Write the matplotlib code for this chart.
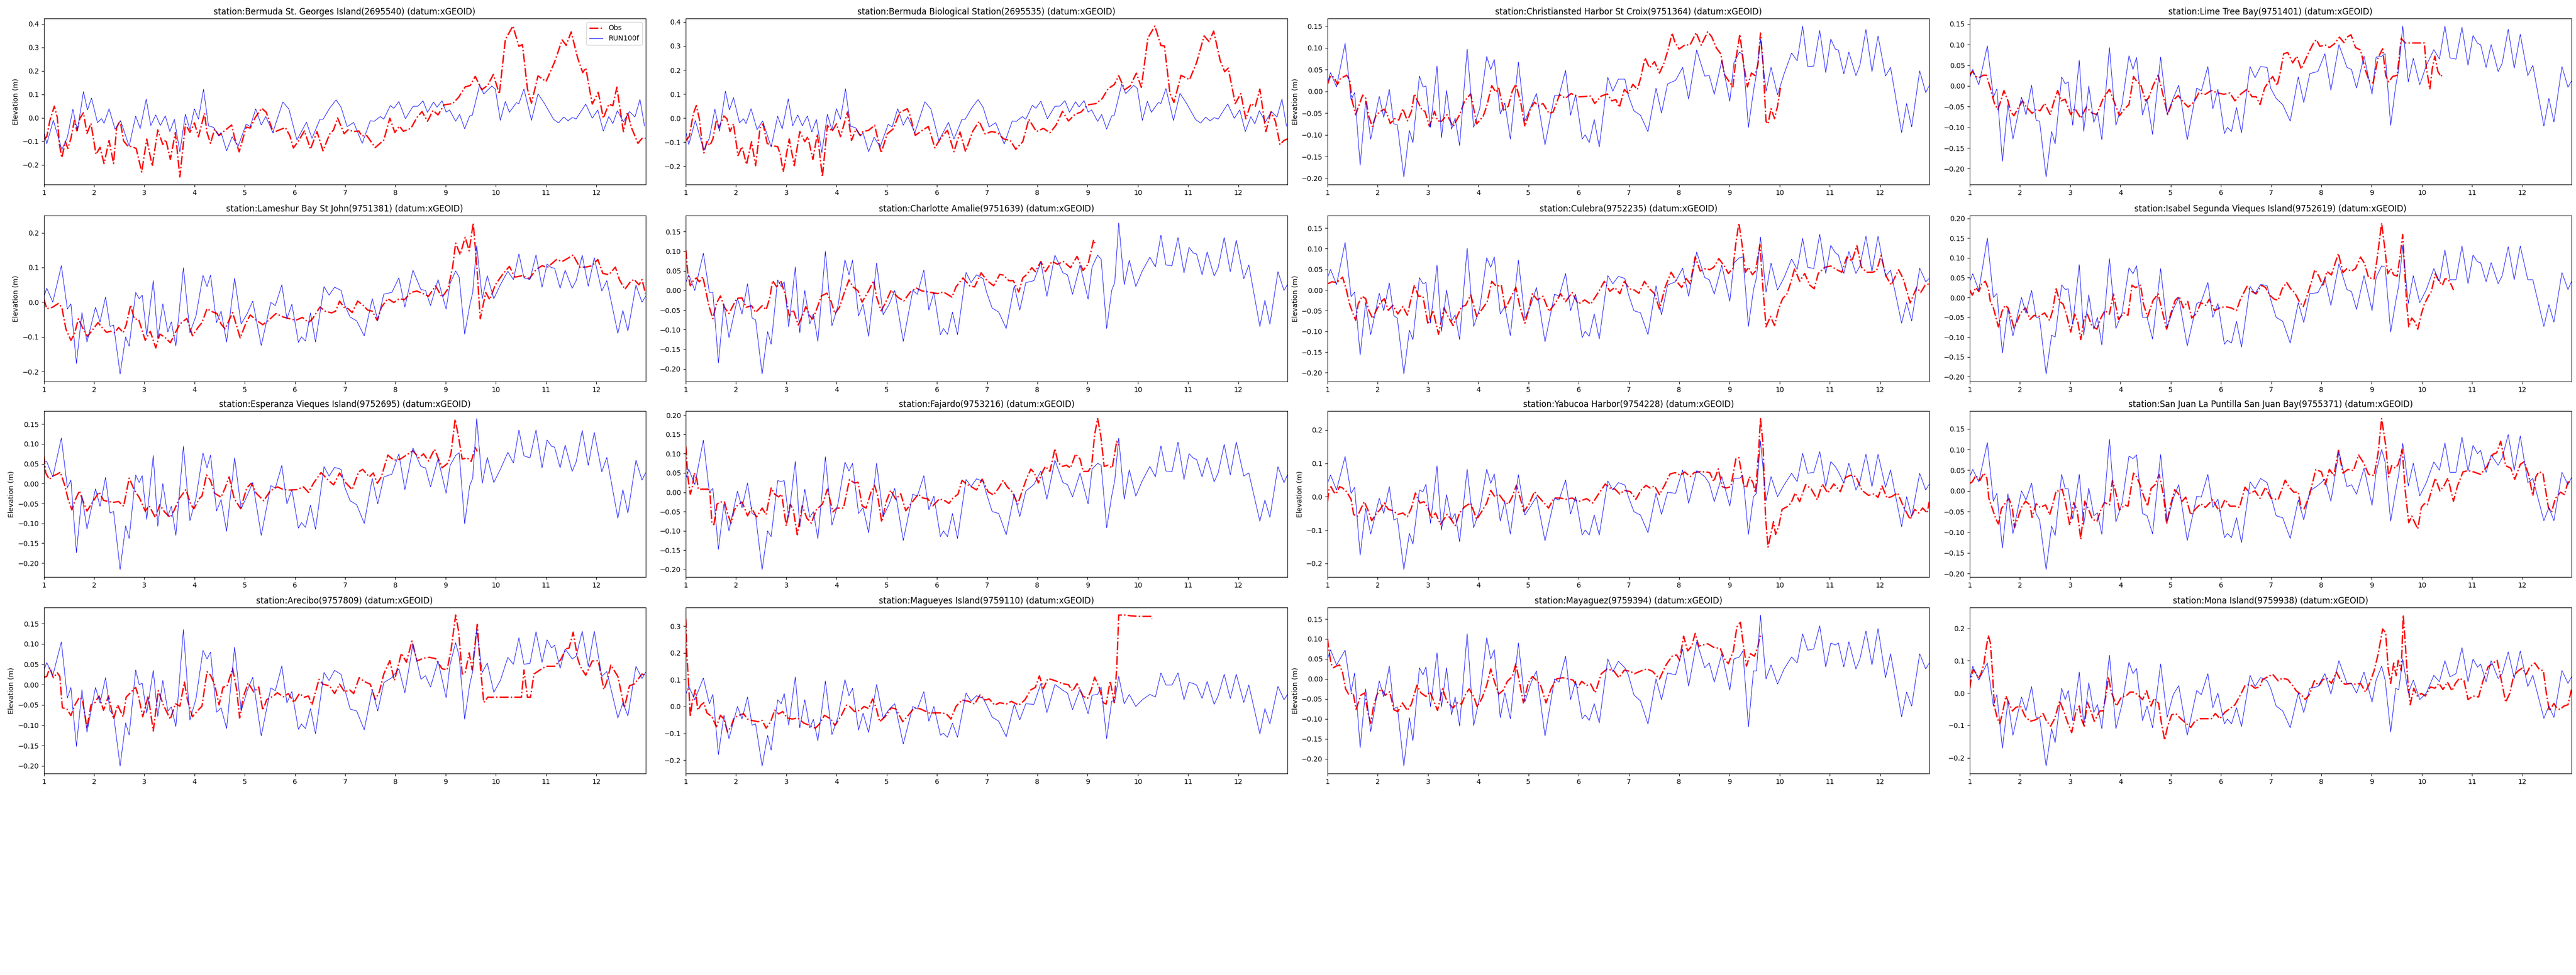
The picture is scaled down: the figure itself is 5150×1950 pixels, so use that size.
import numpy as np
import matplotlib
matplotlib.use("Agg")
import matplotlib.pyplot as plt

stations = [
    "Bermuda St. Georges Island(2695540)", "Bermuda Biological Station(2695535)",
    "Christiansted Harbor St Croix(9751364)", "Lime Tree Bay(9751401)",
    "Lameshur Bay St John(9751381)", "Charlotte Amalie(9751639)",
    "Culebra(9752235)", "Isabel Segunda Vieques Island(9752619)",
    "Esperanza Vieques Island(9752695)", "Fajardo(9753216)",
    "Yabucoa Harbor(9754228)", "San Juan La Puntilla San Juan Bay(9755371)",
    "Arecibo(9757809)", "Magueyes Island(9759110)",
    "Mayaguez(9759394)", "Mona Island(9759938)",
]

# ---------------- model (RUN100f) ----------------
# Bermuda model curve: flat list of time, value
run_bermuda = [
    1.00,-0.055, 1.06,-0.110, 1.19,-0.010, 1.36,-0.135, 1.47,-0.083, 1.58,0.037, 1.67,-0.055, 1.79,0.112, 1.87,0.034, 1.95,0.085,
    2.07,-0.020, 2.15,-0.003, 2.20,-0.023, 2.30,0.039, 2.42,-0.048, 2.53,-0.012, 2.70,-0.120, 2.83,0.008, 2.92,-0.045, 3.04,0.080,
    3.13,-0.032, 3.23,0.013, 3.32,-0.032, 3.42,0.009, 3.51,-0.058, 3.60,-0.006, 3.71,-0.144, 3.82,0.016, 3.91,-0.050, 4.00,0.039,
    4.08,-0.005, 4.18,0.122, 4.28,-0.034, 4.38,-0.040, 4.48,-0.075, 4.53,-0.062, 4.64,-0.140, 4.75,-0.080, 4.87,-0.120, 5.03,-0.026,
    5.11,-0.037, 5.22,0.039, 5.33,-0.030, 5.42,0.006, 5.56,-0.062, 5.76,0.068, 5.88,0.038, 6.04,-0.094, 6.23,-0.018, 6.34,-0.087,
    6.50,-0.005, 6.56,-0.006, 6.69,0.041, 6.82,0.077, 6.92,0.045, 7.04,-0.037, 7.17,-0.019, 7.34,-0.108, 7.50,-0.012, 7.58,-0.014,
    7.70,0.006, 7.77,-0.005, 7.90,0.053, 7.97,0.041, 8.07,0.070, 8.20,-0.003, 8.35,0.049, 8.45,0.050, 8.55,0.073, 8.64,0.024,
    8.76,0.068, 8.83,0.046, 8.93,0.073, 9.01,0.025, 9.08,0.034, 9.20,-0.014, 9.28,0.015, 9.38,-0.046, 9.48,0.009, 9.53,0.011,
    9.68,0.141, 9.76,0.102, 9.92,0.136, 9.99,0.123, 10.09,-0.010, 10.19,0.070, 10.27,0.024, 10.41,0.065, 10.46,0.061, 10.56,0.123,
    10.71,-0.010, 10.84,0.103, 10.97,0.061, 11.15,-0.006, 11.25,-0.021, 11.35,0.004, 11.44,-0.012, 11.52,0.002, 11.60,-0.004, 11.79,0.059,
    11.92,-0.001, 12.03,0.034, 12.14,-0.056, 12.25,0.006, 12.33,-0.024, 12.42,0.031, 12.54,-0.016, 12.66,0.027, 12.77,0.004, 12.87,0.079,
    12.96,-0.034,
]

# Puerto Rico / Virgin Islands model curves share these times
t_pr = [
    1.00, 1.06, 1.18, 1.35, 1.47, 1.54, 1.65, 1.76, 1.86, 2.03,
    2.12, 2.23, 2.32, 2.39, 2.52, 2.63, 2.70, 2.83, 2.90, 2.96,
    3.05, 3.18, 3.27, 3.37, 3.47, 3.54, 3.63, 3.78, 3.91, 4.03,
    4.17, 4.25, 4.32, 4.44, 4.53, 4.64, 4.80, 4.93, 5.05, 5.16,
    5.33, 5.52, 5.61, 5.74, 5.84, 5.94, 6.07, 6.13, 6.21, 6.31,
    6.41, 6.58, 6.68, 6.79, 6.92, 6.99, 7.10, 7.23, 7.38, 7.54,
    7.65, 7.77, 7.93, 8.07, 8.19, 8.35, 8.51, 8.60, 8.70, 8.85,
    9.01, 9.09, 9.20, 9.27, 9.38, 9.48, 9.54, 9.62, 9.73, 9.83,
    9.96, 10.09, 10.24, 10.35, 10.46, 10.56, 10.68, 10.80, 10.92, 11.02,
    11.11, 11.17, 11.28, 11.38, 11.52, 11.60, 11.72, 11.84, 11.96, 12.11,
    12.21, 12.43, 12.53, 12.63, 12.79, 12.91, 12.98,
]

run_christiansted = [
    0.020, 0.043, 0.010, 0.110, -0.020, -0.003, -0.170, -0.022, -0.110, -0.012,
    -0.060, 0.004, -0.075, -0.077, -0.197, -0.090, -0.118, 0.035, 0.010, 0.012,
    -0.083, 0.058, -0.107, 0.002, -0.087, -0.062, -0.125, 0.097, -0.083, -0.040,
    0.080, 0.050, 0.073, -0.052, -0.027, -0.110, 0.067, -0.068, -0.035, -0.005,
    -0.123, -0.010, -0.010, 0.048, -0.055, -0.008, -0.110, -0.100, -0.118, -0.065,
    -0.128, 0.032, 0.000, 0.028, 0.028, -0.010, -0.045, -0.055, -0.093, 0.007,
    -0.050, 0.017, 0.025, 0.055, -0.018, 0.095, 0.035, 0.036, -0.007, 0.070,
    -0.023, 0.065, 0.090, 0.085, -0.083, 0.000, 0.040, 0.120, 0.000, 0.055,
    -0.008, 0.040, 0.088, 0.070, 0.150, 0.057, 0.058, 0.140, 0.043, 0.120,
    0.097, 0.095, 0.040, 0.090, 0.036, 0.060, 0.142, 0.045, 0.127, 0.035,
    0.055, -0.095, -0.028, -0.082, 0.047, -0.003, 0.013,
]
run_limetree = [
    0.020, 0.040, 0.003, 0.097, -0.027, -0.007, -0.182, -0.045, -0.128, -0.027,
    -0.070, 0.002, -0.083, -0.085, -0.220, -0.110, -0.140, 0.022, 0.005, 0.010,
    -0.095, 0.062, -0.110, 0.000, -0.088, -0.063, -0.130, 0.093, -0.095, -0.045,
    0.073, 0.040, 0.069, -0.070, -0.032, -0.117, 0.070, -0.068, -0.030, 0.002,
    -0.130, -0.005, -0.012, 0.047, -0.055, -0.008, -0.115, -0.100, -0.110, -0.052,
    -0.113, 0.047, 0.020, 0.047, 0.045, -0.005, -0.030, -0.045, -0.085, 0.022,
    -0.040, 0.030, 0.035, 0.078, -0.010, 0.100, 0.045, 0.040, -0.005, 0.072,
    -0.020, 0.070, 0.072, 0.078, -0.095, 0.000, 0.040, 0.145, 0.010, 0.067,
    0.003, 0.050, 0.088, 0.065, 0.145, 0.068, 0.065, 0.142, 0.050, 0.122,
    0.103, 0.100, 0.045, 0.100, 0.035, 0.055, 0.137, 0.043, 0.125, 0.025,
    0.050, -0.097, -0.030, -0.087, 0.047, -0.003, 0.012,
]
run_lameshur = [
    0.015, 0.040, 0.000, 0.105, -0.020, -0.005, -0.177, -0.030, -0.115, -0.015,
    -0.057, 0.015, -0.070, -0.066, -0.207, -0.100, -0.127, 0.028, 0.010, 0.020,
    -0.095, 0.062, -0.105, -0.005, -0.086, -0.057, -0.126, 0.099, -0.088, -0.040,
    0.077, 0.045, 0.078, -0.059, -0.026, -0.115, 0.069, -0.063, -0.033, 0.003,
    -0.125, -0.001, -0.010, 0.050, -0.048, -0.006, -0.116, -0.100, -0.112, -0.031,
    -0.115, 0.045, 0.020, 0.043, 0.034, -0.008, -0.043, -0.054, -0.097, 0.010,
    -0.052, 0.023, 0.028, 0.070, -0.014, 0.092, 0.036, 0.034, -0.010, 0.065,
    -0.020, 0.054, 0.090, 0.072, -0.092, -0.010, 0.028, 0.163, 0.010, 0.076,
    0.010, 0.050, 0.089, 0.065, 0.139, 0.070, 0.065, 0.136, 0.043, 0.110,
    0.099, 0.098, 0.040, 0.092, 0.040, 0.062, 0.135, 0.046, 0.128, 0.032,
    0.062, -0.090, -0.024, -0.083, 0.049, 0.000, 0.016,
]
run_charlotte = [
    0.020, 0.040, 0.000, 0.095, -0.005, -0.005, -0.185, -0.035, -0.120, -0.020,
    -0.060, 0.017, -0.070, -0.075, -0.213, -0.105, -0.137, 0.027, 0.010, 0.022,
    -0.093, 0.060, -0.108, 0.000, -0.085, -0.060, -0.130, 0.100, -0.090, -0.040,
    0.078, 0.040, 0.077, -0.065, -0.035, -0.117, 0.070, -0.062, -0.035, 0.000,
    -0.130, 0.000, -0.010, 0.052, -0.050, -0.005, -0.113, -0.097, -0.112, -0.055,
    -0.113, 0.046, 0.020, 0.040, 0.030, -0.005, -0.045, -0.055, -0.097, 0.012,
    -0.050, 0.020, 0.025, 0.072, -0.015, 0.090, 0.045, 0.040, -0.010, 0.065,
    -0.022, 0.060, 0.090, 0.080, -0.097, 0.000, 0.020, 0.172, 0.015, 0.077,
    0.010, 0.050, 0.085, 0.060, 0.141, 0.065, 0.063, 0.135, 0.045, 0.110,
    0.095, 0.093, 0.040, 0.098, 0.037, 0.058, 0.135, 0.048, 0.128, 0.030,
    0.065, -0.092, -0.025, -0.086, 0.048, 0.000, 0.015,
]
run_culebra = [
    0.030, 0.050, 0.013, 0.115, -0.016, -0.005, -0.157, -0.030, -0.108, -0.008,
    -0.050, 0.017, -0.062, -0.068, -0.203, -0.097, -0.120, 0.030, 0.015, 0.018,
    -0.080, 0.060, -0.100, 0.000, -0.075, -0.060, -0.120, 0.101, -0.088, -0.045,
    0.078, 0.055, 0.080, -0.058, -0.040, -0.110, 0.072, -0.068, -0.035, 0.006,
    -0.125, -0.010, -0.015, 0.040, -0.050, -0.010, -0.115, -0.100, -0.112, -0.058,
    -0.118, 0.035, 0.015, 0.033, 0.028, -0.010, -0.050, -0.055, -0.108, 0.010,
    -0.060, 0.012, 0.020, 0.053, -0.015, 0.092, 0.030, 0.025, -0.010, 0.060,
    -0.027, 0.065, 0.078, 0.080, -0.088, 0.000, 0.030, 0.128, -0.005, 0.065,
    0.000, 0.030, 0.075, 0.050, 0.125, 0.055, 0.052, 0.135, 0.040, 0.108,
    0.090, 0.085, 0.040, 0.093, 0.040, 0.058, 0.130, 0.045, 0.130, 0.033,
    0.048, -0.080, -0.030, -0.075, 0.053, 0.020, 0.028,
]
run_isabel = [
    0.041, 0.060, 0.018, 0.150, 0.000, 0.010, -0.140, -0.030, -0.097, 0.000,
    -0.040, 0.018, -0.050, -0.052, -0.193, -0.095, -0.100, 0.032, 0.020, 0.022,
    -0.068, 0.083, -0.095, 0.007, -0.080, -0.050, -0.120, 0.098, -0.078, -0.040,
    0.075, 0.060, 0.080, -0.050, -0.050, -0.105, 0.073, -0.075, -0.030, 0.000,
    -0.122, -0.015, -0.010, 0.038, -0.050, -0.015, -0.118, -0.108, -0.115, -0.060,
    -0.125, 0.028, 0.010, 0.033, 0.030, -0.005, -0.050, -0.060, -0.115, -0.013,
    -0.063, 0.010, 0.012, 0.048, -0.020, 0.085, 0.020, 0.015, -0.030, 0.055,
    -0.033, 0.050, 0.080, 0.077, -0.087, -0.010, 0.030, 0.130, -0.015, 0.055,
    -0.013, 0.020, 0.073, 0.040, 0.120, 0.045, 0.045, 0.130, 0.035, 0.107,
    0.090, 0.088, 0.040, 0.088, 0.035, 0.055, 0.128, 0.045, 0.130, 0.045,
    0.045, -0.073, -0.018, -0.062, 0.063, 0.020, 0.040,
]
run_esperanza = [
    0.059, 0.055, 0.017, 0.115, -0.010, 0.009, -0.174, -0.030, -0.114, -0.013,
    -0.057, 0.016, -0.074, -0.070, -0.216, -0.106, -0.138, 0.022, 0.003, 0.020,
    -0.090, 0.071, -0.107, 0.000, -0.082, -0.057, -0.130, 0.094, -0.093, -0.037,
    0.077, 0.040, 0.072, -0.069, -0.040, -0.120, 0.065, -0.063, -0.030, 0.003,
    -0.130, -0.005, -0.011, 0.046, -0.051, -0.015, -0.112, -0.098, -0.110, -0.054,
    -0.115, 0.043, 0.019, 0.041, 0.036, -0.008, -0.043, -0.053, -0.100, 0.013,
    -0.051, 0.017, 0.024, 0.075, -0.015, 0.090, 0.043, 0.040, -0.008, 0.063,
    -0.024, 0.046, 0.071, 0.078, -0.101, -0.005, 0.014, 0.164, 0.001, 0.066,
    0.003, 0.036, 0.079, 0.052, 0.135, 0.070, 0.065, 0.135, 0.040, 0.110,
    0.094, 0.092, 0.040, 0.097, 0.031, 0.055, 0.134, 0.046, 0.129, 0.030,
    0.066, -0.087, -0.015, -0.074, 0.059, 0.009, 0.027,
]
run_fajardo = [
    0.035, 0.060, 0.020, 0.135, 0.000, 0.010, -0.148, -0.030, -0.100, 0.003,
    -0.040, 0.024, -0.055, -0.060, -0.200, -0.100, -0.115, 0.030, 0.028, 0.030,
    -0.065, 0.080, -0.090, 0.008, -0.065, -0.050, -0.120, 0.092, -0.085, -0.030,
    0.078, 0.055, 0.075, -0.055, -0.040, -0.105, 0.075, -0.063, -0.030, 0.010,
    -0.125, -0.005, -0.010, 0.043, -0.045, -0.010, -0.115, -0.100, -0.115, -0.055,
    -0.120, 0.033, 0.015, 0.035, 0.028, -0.005, -0.050, -0.055, -0.110, -0.005,
    -0.063, 0.003, 0.020, 0.055, -0.018, 0.083, 0.025, 0.020, -0.012, 0.050,
    -0.030, 0.060, 0.075, 0.070, -0.092, -0.010, 0.030, 0.140, -0.018, 0.058,
    -0.010, 0.030, 0.067, 0.040, 0.120, 0.055, 0.053, 0.130, 0.033, 0.100,
    0.088, 0.085, 0.040, 0.090, 0.027, 0.050, 0.124, 0.045, 0.130, 0.042,
    0.050, -0.075, -0.020, -0.065, 0.066, 0.025, 0.045,
]
run_yabucoa = [
    0.040, 0.065, 0.020, 0.120, 0.010, 0.028, -0.175, -0.035, -0.112, -0.005,
    -0.050, 0.030, -0.070, -0.065, -0.218, -0.110, -0.142, 0.020, 0.015, 0.037,
    -0.080, 0.092, -0.100, 0.006, -0.070, -0.050, -0.135, 0.082, -0.093, -0.040,
    0.082, 0.040, 0.068, -0.073, -0.015, -0.112, 0.066, -0.055, -0.027, 0.000,
    -0.132, -0.005, -0.010, 0.050, -0.052, 0.000, -0.115, -0.100, -0.115, -0.055,
    -0.115, 0.047, 0.020, 0.042, 0.035, 0.000, -0.045, -0.055, -0.108, 0.010,
    -0.053, 0.013, 0.010, 0.080, -0.020, 0.078, 0.060, 0.040, -0.015, 0.060,
    -0.028, 0.055, 0.055, 0.063, -0.113, 0.000, 0.010, 0.167, -0.012, 0.060,
    0.000, 0.035, 0.070, 0.045, 0.130, 0.070, 0.073, 0.135, 0.030, 0.105,
    0.090, 0.075, 0.040, 0.100, 0.020, 0.045, 0.127, 0.030, 0.127, 0.028,
    0.080, -0.090, 0.000, -0.060, 0.070, 0.020, 0.038,
]
run_sanjuan = [
    0.035, 0.052, 0.022, 0.117, -0.025, -0.006, -0.138, -0.007, -0.103, 0.000,
    -0.022, 0.019, -0.055, -0.070, -0.190, -0.085, -0.108, 0.040, 0.005, 0.005,
    -0.068, 0.040, -0.083, 0.007, -0.060, -0.053, -0.105, 0.125, -0.075, -0.030,
    0.084, 0.078, 0.087, -0.055, -0.060, -0.104, 0.088, -0.075, -0.018, 0.015,
    -0.120, -0.013, -0.015, 0.040, -0.040, -0.020, -0.113, -0.103, -0.113, -0.065,
    -0.125, 0.022, 0.005, 0.030, 0.020, -0.010, -0.060, -0.065, -0.115, -0.022,
    -0.070, 0.000, 0.013, 0.028, -0.025, 0.095, 0.010, 0.015, -0.008, 0.055,
    -0.035, 0.045, 0.100, 0.070, -0.073, 0.000, 0.040, 0.115, 0.012, 0.067,
    -0.012, 0.020, 0.070, 0.050, 0.116, 0.045, 0.045, 0.130, 0.048, 0.110,
    0.090, 0.098, 0.045, 0.087, 0.062, 0.080, 0.136, 0.050, 0.133, 0.020,
    0.030, -0.072, -0.040, -0.072, 0.045, 0.015, 0.032,
]
run_arecibo = [
    0.035, 0.054, 0.022, 0.105, -0.033, -0.007, -0.152, -0.013, -0.117, -0.007,
    -0.045, 0.017, -0.065, -0.075, -0.200, -0.094, -0.124, 0.036, 0.000, 0.003,
    -0.070, 0.035, -0.078, 0.010, -0.065, -0.055, -0.103, 0.135, -0.087, -0.035,
    0.084, 0.063, 0.080, -0.068, -0.057, -0.108, 0.092, -0.065, -0.015, 0.018,
    -0.126, -0.008, -0.015, 0.046, -0.045, -0.017, -0.110, -0.097, -0.108, -0.059,
    -0.121, 0.030, 0.010, 0.035, 0.025, -0.010, -0.060, -0.065, -0.111, -0.013,
    -0.065, 0.005, 0.017, 0.039, -0.020, 0.100, 0.013, 0.022, -0.006, 0.058,
    -0.032, 0.050, 0.103, 0.070, -0.085, 0.000, 0.033, 0.135, 0.030, 0.053,
    -0.019, 0.010, 0.067, 0.050, 0.115, 0.050, 0.052, 0.130, 0.055, 0.110,
    0.090, 0.097, 0.040, 0.088, 0.063, 0.070, 0.131, 0.045, 0.131, 0.020,
    0.032, -0.082, -0.045, -0.077, 0.045, 0.015, 0.030,
]
run_magueyes = [
    0.045, 0.075, 0.025, 0.106, 0.010, 0.045, -0.180, -0.033, -0.120, 0.000,
    -0.047, 0.035, -0.070, -0.065, -0.222, -0.108, -0.163, 0.025, 0.010, 0.048,
    -0.070, 0.110, -0.080, 0.025, -0.080, -0.048, -0.128, 0.095, -0.105, -0.040,
    0.100, 0.040, 0.068, -0.088, -0.025, -0.097, 0.082, -0.043, -0.010, 0.010,
    -0.140, 0.000, -0.010, 0.055, -0.055, 0.000, -0.107, -0.100, -0.115, -0.062,
    -0.115, 0.050, 0.020, 0.040, 0.030, 0.005, -0.040, -0.055, -0.113, 0.008,
    -0.050, 0.010, 0.008, 0.085, -0.023, 0.082, 0.060, 0.050, -0.012, 0.065,
    -0.027, 0.042, 0.045, 0.072, -0.120, 0.020, 0.020, 0.112, 0.010, 0.045,
    0.000, 0.025, 0.045, 0.035, 0.125, 0.080, 0.080, 0.125, 0.025, 0.090,
    0.085, 0.080, 0.030, 0.093, 0.008, 0.040, 0.120, 0.030, 0.120, 0.015,
    0.080, -0.103, -0.008, -0.065, 0.075, 0.025, 0.045,
]
run_mayaguez = [
    0.050, 0.073, 0.035, 0.072, -0.032, 0.015, -0.172, -0.025, -0.132, -0.005,
    -0.045, 0.032, -0.075, -0.070, -0.218, -0.097, -0.155, 0.028, 0.010, 0.030,
    -0.070, 0.065, -0.070, 0.028, -0.090, -0.045, -0.118, 0.113, -0.117, -0.045,
    0.103, 0.050, 0.073, -0.097, -0.035, -0.100, 0.090, -0.057, -0.010, 0.020,
    -0.143, 0.000, -0.008, 0.057, -0.052, -0.005, -0.100, -0.090, -0.104, -0.062,
    -0.110, 0.050, 0.018, 0.044, 0.028, 0.010, -0.040, -0.055, -0.113, 0.000,
    -0.052, 0.015, 0.010, 0.075, -0.018, 0.093, 0.028, 0.040, -0.008, 0.063,
    -0.028, 0.050, 0.055, 0.070, -0.120, 0.020, 0.020, 0.160, 0.000, 0.035,
    -0.013, 0.025, 0.055, 0.040, 0.113, 0.072, 0.075, 0.133, 0.030, 0.090,
    0.085, 0.090, 0.030, 0.093, 0.025, 0.050, 0.120, 0.035, 0.126, 0.003,
    0.063, -0.095, -0.033, -0.068, 0.063, 0.025, 0.040,
]
run_mona = [
    0.040, 0.083, 0.040, 0.093, -0.040, -0.005, -0.170, -0.025, -0.130, -0.012,
    -0.055, 0.020, -0.075, -0.075, -0.225, -0.110, -0.153, 0.015, -0.020, 0.008,
    -0.085, 0.065, -0.100, 0.032, -0.060, -0.035, -0.110, 0.117, -0.110, -0.035,
    0.095, 0.060, 0.076, -0.085, -0.040, -0.107, 0.090, -0.075, -0.005, 0.023,
    -0.130, 0.008, -0.005, 0.060, -0.045, 0.000, -0.095, -0.080, -0.095, -0.045,
    -0.103, 0.055, 0.020, 0.048, 0.038, 0.015, -0.040, -0.055, -0.107, 0.000,
    -0.060, 0.015, 0.020, 0.060, -0.003, 0.100, 0.030, 0.030, 0.000, 0.065,
    -0.028, 0.040, 0.083, 0.040, -0.120, 0.015, 0.010, 0.105, 0.000, 0.040,
    -0.020, 0.000, 0.055, 0.035, 0.100, 0.050, 0.060, 0.140, 0.035, 0.105,
    0.080, 0.090, 0.035, 0.100, 0.045, 0.060, 0.127, 0.045, 0.130, 0.020,
    0.055, -0.078, -0.040, -0.075, 0.070, 0.030, 0.050,
]

# ---------------- observations (Obs): flat lists of time, value ----------------
obs_stgeorges = [
    1.00,-0.090, 1.06,-0.080, 1.12,-0.012, 1.21,0.050, 1.27,0.002, 1.31,-0.112, 1.36,-0.169, 1.43,-0.101, 1.48,-0.130, 1.54,-0.087,
    1.61,-0.010, 1.66,-0.055, 1.72,-0.001, 1.79,0.022, 1.86,-0.066, 1.94,-0.023, 2.04,-0.155, 2.12,-0.125, 2.20,-0.194, 2.30,-0.096,
    2.39,-0.194, 2.45,-0.041, 2.52,-0.011, 2.59,-0.098, 2.67,-0.119, 2.77,-0.123, 2.84,-0.130, 2.95,-0.230, 3.05,-0.090, 3.16,-0.205,
    3.27,-0.051, 3.37,-0.113, 3.43,-0.092, 3.52,-0.176, 3.62,-0.062, 3.71,-0.251, 3.82,-0.026, 3.91,-0.061, 4.00,-0.021, 4.08,-0.080,
    4.20,0.020, 4.25,-0.062, 4.32,-0.108, 4.40,-0.048, 4.49,-0.075, 4.59,-0.056, 4.74,-0.030, 4.80,-0.085, 4.89,-0.144, 5.03,-0.039,
    5.11,-0.043, 5.21,0.002, 5.34,0.041, 5.43,0.024, 5.57,-0.062, 5.69,-0.051, 5.81,-0.041, 5.90,-0.076, 5.97,-0.128, 6.07,-0.098,
    6.19,-0.055, 6.31,-0.133, 6.44,-0.058, 6.56,-0.140, 6.69,-0.069, 6.77,-0.051, 6.85,0.000, 6.98,-0.067, 7.06,-0.050, 7.17,-0.058,
    7.27,-0.055, 7.33,-0.076, 7.43,-0.075, 7.60,-0.126, 7.77,-0.094, 7.89,-0.001, 7.99,-0.062, 8.08,-0.035, 8.16,-0.057, 8.31,-0.044,
    8.43,0.002, 8.53,0.027, 8.64,-0.014, 8.75,0.032, 8.85,0.013, 8.97,0.056, 9.14,0.061, 9.26,0.088, 9.39,0.132, 9.49,0.138,
    9.59,0.177, 9.72,0.120, 9.84,0.139, 9.95,0.185, 10.07,0.102, 10.19,0.334, 10.34,0.391, 10.46,0.305, 10.53,0.312, 10.63,0.123,
    10.71,0.063, 10.84,0.179, 11.00,0.155, 11.17,0.238, 11.32,0.332, 11.40,0.309, 11.50,0.366, 11.63,0.255, 11.73,0.193, 11.79,0.213,
    11.92,0.059, 12.04,0.109, 12.14,-0.001, 12.25,0.059, 12.33,0.052, 12.41,0.131, 12.54,-0.058, 12.62,0.024, 12.70,-0.041, 12.83,-0.108,
    12.91,-0.087, 12.98,-0.087,
]
obs_biological = [
    1.00,-0.093, 1.07,-0.077, 1.15,0.018, 1.21,0.052, 1.27,-0.003, 1.32,-0.093, 1.36,-0.145, 1.42,-0.098, 1.48,-0.114, 1.54,-0.087,
    1.61,-0.008, 1.66,-0.040, 1.76,0.009, 1.82,-0.003, 1.88,-0.056, 1.95,-0.024, 2.04,-0.156, 2.12,-0.119, 2.21,-0.193, 2.31,-0.098,
    2.39,-0.198, 2.48,-0.040, 2.54,-0.024, 2.62,-0.105, 2.70,-0.114, 2.83,-0.119, 2.88,-0.150, 2.94,-0.224, 3.06,-0.087, 3.16,-0.198,
    3.27,-0.056, 3.37,-0.098, 3.43,-0.077, 3.53,-0.172, 3.62,-0.066, 3.72,-0.245, 3.82,-0.030, 3.91,-0.056, 4.00,-0.024, 4.08,-0.077,
    4.22,0.025, 4.30,-0.093, 4.39,-0.045, 4.47,-0.072, 4.53,-0.056, 4.64,-0.051, 4.76,-0.030, 4.89,-0.145, 5.01,-0.066, 5.13,-0.045,
    5.26,0.023, 5.41,0.039, 5.46,0.013, 5.57,-0.072, 5.71,-0.051, 5.83,-0.035, 5.96,-0.124, 6.08,-0.082, 6.21,-0.051, 6.34,-0.140,
    6.46,-0.058, 6.57,-0.140, 6.71,-0.056, 6.84,-0.014, 6.96,-0.066, 7.09,-0.056, 7.21,-0.061, 7.33,-0.087, 7.46,-0.093, 7.57,-0.130,
    7.71,-0.098, 7.83,-0.005, 7.98,-0.056, 8.12,-0.043, 8.25,-0.061, 8.37,-0.030, 8.50,0.028, 8.62,-0.012, 8.75,0.016, 8.87,0.025,
    9.00,0.055, 9.16,0.060, 9.29,0.081, 9.41,0.123, 9.53,0.139, 9.62,0.176, 9.74,0.118, 9.85,0.134, 9.97,0.187, 10.07,0.128,
    10.20,0.333, 10.34,0.383, 10.46,0.302, 10.53,0.300, 10.64,0.102, 10.72,0.065, 10.86,0.178, 11.03,0.160, 11.17,0.231, 11.32,0.342,
    11.42,0.318, 11.51,0.362, 11.64,0.239, 11.73,0.193, 11.80,0.208, 11.94,0.060, 12.05,0.102, 12.15,-0.003, 12.25,0.060, 12.34,0.049,
    12.43,0.121, 12.55,-0.056, 12.65,0.026, 12.74,-0.014, 12.83,-0.110, 12.91,-0.093, 12.98,-0.087,
]
obs_christiansted = [
    1.00,0.016, 1.05,0.033, 1.09,0.036, 1.15,0.027, 1.20,0.016, 1.26,0.030, 1.32,0.033, 1.38,0.037, 1.44,0.027, 1.49,-0.022,
    1.56,-0.054, 1.63,-0.031, 1.70,-0.009, 1.76,-0.016, 1.82,-0.057, 1.89,-0.081, 1.96,-0.057, 2.03,-0.048, 2.13,-0.041, 2.19,-0.054,
    2.25,-0.074, 2.34,-0.063, 2.42,-0.066, 2.50,-0.040, 2.59,-0.068, 2.67,-0.046, 2.73,-0.006, 2.79,-0.022, 2.88,-0.043, 2.94,-0.046,
    3.03,-0.081, 3.13,-0.046, 3.19,-0.068, 3.27,-0.069, 3.38,-0.054, 3.50,-0.081, 3.63,-0.054, 3.73,-0.022, 3.85,-0.006, 3.97,-0.075,
    4.10,-0.057, 4.17,-0.034, 4.27,0.013, 4.35,-0.002, 4.41,0.007, 4.51,-0.046, 4.60,-0.034, 4.68,0.001, 4.75,0.016, 4.85,-0.028,
    4.93,-0.081, 5.04,-0.040, 5.12,-0.025, 5.20,-0.034, 5.29,-0.028, 5.41,-0.051, 5.49,-0.048, 5.62,-0.008, 5.74,-0.016, 5.85,-0.005,
    5.99,-0.013, 6.12,-0.012, 6.24,-0.011, 6.32,-0.028, 6.45,-0.011, 6.57,-0.006, 6.66,-0.022, 6.74,-0.019, 6.81,-0.037, 6.91,0.004,
    6.99,-0.005, 7.08,0.016, 7.17,0.004, 7.24,0.033, 7.32,0.077, 7.41,0.054, 7.51,0.068, 7.61,0.042, 7.70,0.065, 7.78,0.095,
    7.86,0.134, 7.92,0.112, 8.00,0.097, 8.11,0.106, 8.22,0.107, 8.34,0.135, 8.44,0.106, 8.57,0.137, 8.65,0.125, 8.74,0.100,
    8.83,0.086, 8.90,0.039, 8.98,0.025, 9.07,0.010, 9.13,0.074, 9.21,0.131, 9.28,0.065, 9.36,0.010, 9.44,0.042, 9.51,0.036,
    9.57,0.062, 9.62,0.134, 9.67,0.065, 9.73,-0.069, 9.77,-0.075, 9.83,-0.040, 9.90,-0.063, 9.96,-0.034, 10.02,0.010,
]
obs_limetree = [
    1.00,0.026, 1.05,0.036, 1.12,0.023, 1.18,0.020, 1.27,0.026, 1.33,0.026, 1.41,-0.005, 1.49,-0.042, 1.56,-0.057, 1.61,-0.039,
    1.68,-0.011, 1.76,-0.036, 1.82,-0.063, 1.88,-0.072, 1.96,-0.054, 2.05,-0.036, 2.13,-0.051, 2.24,-0.066, 2.32,-0.057, 2.40,-0.060,
    2.49,-0.042, 2.60,-0.069, 2.68,-0.036, 2.75,-0.011, 2.82,-0.036, 2.90,-0.032, 3.01,-0.069, 3.09,-0.054, 3.21,-0.078, 3.32,-0.051,
    3.44,-0.066, 3.53,-0.069, 3.65,-0.032, 3.78,-0.008, 3.87,-0.036, 3.98,-0.072, 4.09,-0.054, 4.17,-0.045, 4.26,0.023, 4.33,0.010,
    4.40,0.004, 4.50,-0.036, 4.56,-0.029, 4.65,0.001, 4.75,0.026, 4.81,-0.002, 4.94,-0.069, 5.04,-0.036, 5.15,-0.023, 5.25,-0.039,
    5.35,-0.051, 5.46,-0.039, 5.56,-0.017, 5.69,-0.020, 5.81,-0.011, 5.94,-0.017, 6.06,-0.020, 6.18,-0.017, 6.28,-0.036, 6.39,-0.020,
    6.52,-0.008, 6.62,-0.026, 6.70,-0.026, 6.78,-0.045, 6.87,-0.005, 6.95,0.010, 7.03,0.023, 7.12,0.001, 7.18,0.032, 7.25,0.078,
    7.33,0.081, 7.43,0.056, 7.51,0.072, 7.60,0.041, 7.68,0.063, 7.76,0.084, 7.85,0.105, 7.90,0.112, 7.97,0.096, 8.08,0.099,
    8.16,0.093, 8.26,0.102, 8.36,0.118, 8.45,0.105, 8.51,0.118, 8.59,0.124, 8.68,0.093, 8.78,0.087, 8.87,0.041, 8.95,0.013,
    9.03,0.007, 9.13,0.069, 9.22,0.090, 9.28,0.026, 9.34,0.010, 9.42,0.023, 9.51,0.026, 9.59,0.115, 9.67,0.104, 9.88,0.104,
    10.05,0.104, 10.09,0.044, 10.16,-0.008, 10.21,0.044, 10.26,0.072, 10.32,0.035, 10.38,0.023, 10.41,0.029,
]
obs_lameshur = [
    1.00,0.010, 1.06,-0.019, 1.17,-0.015, 1.29,-0.004, 1.36,-0.015, 1.44,-0.077, 1.54,-0.110, 1.61,-0.092, 1.69,-0.048, 1.77,-0.073,
    1.87,-0.099, 1.95,-0.084, 2.08,-0.059, 2.16,-0.073, 2.25,-0.087, 2.33,-0.084, 2.41,-0.088, 2.49,-0.073, 2.58,-0.088, 2.64,-0.066,
    2.73,-0.008, 2.80,-0.048, 2.89,-0.050, 3.02,-0.110, 3.12,-0.084, 3.23,-0.132, 3.31,-0.092, 3.41,-0.101, 3.52,-0.117, 3.62,-0.088,
    3.71,-0.063, 3.85,-0.047, 3.96,-0.097, 4.07,-0.073, 4.15,-0.059, 4.25,-0.019, 4.36,-0.028, 4.45,-0.033, 4.53,-0.063, 4.61,-0.077,
    4.76,-0.030, 4.91,-0.103, 5.03,-0.059, 5.11,-0.037, 5.23,-0.052, 5.36,-0.065, 5.48,-0.052, 5.62,-0.033, 5.77,-0.043, 5.90,-0.048,
    6.02,-0.052, 6.15,-0.044, 6.27,-0.059, 6.35,-0.048, 6.50,-0.014, 6.60,-0.026, 6.73,-0.031, 6.81,-0.026, 6.89,0.003, 6.98,-0.015,
    7.06,-0.019, 7.14,-0.030, 7.25,0.003, 7.35,-0.008, 7.45,-0.023, 7.54,-0.026, 7.64,-0.053, 7.72,-0.015, 7.85,0.010, 7.97,-0.001,
    8.08,0.010, 8.18,0.007, 8.31,0.028, 8.43,0.032, 8.53,0.026, 8.66,0.017, 8.80,0.047, 8.93,0.014, 9.05,0.039, 9.14,0.101,
    9.20,0.170, 9.29,0.137, 9.39,0.187, 9.47,0.148, 9.55,0.228, 9.62,0.108, 9.69,-0.048, 9.80,0.028, 9.88,0.007, 9.99,0.050,
    10.13,0.079, 10.27,0.103, 10.38,0.072, 10.52,0.076, 10.67,0.068, 10.80,0.094, 10.92,0.105, 11.02,0.100, 11.09,0.108, 11.21,0.123,
    11.32,0.117, 11.44,0.127, 11.54,0.136, 11.67,0.101, 11.79,0.101, 11.92,0.105, 12.03,0.123, 12.13,0.083, 12.25,0.079, 12.38,0.101,
    12.46,0.065, 12.57,0.037, 12.67,0.057, 12.75,0.066, 12.85,0.050, 12.91,0.065, 12.98,0.025,
]
obs_charlotte = [
    1.00,0.103, 1.04,0.045, 1.09,0.012, 1.15,0.025, 1.21,0.032, 1.27,0.022, 1.34,0.035, 1.40,-0.001, 1.46,-0.039, 1.54,-0.072,
    1.61,-0.033, 1.69,-0.014, 1.77,-0.043, 1.86,-0.059, 1.94,-0.039, 2.02,-0.020, 2.12,-0.019, 2.20,-0.043, 2.31,-0.039, 2.39,-0.056,
    2.52,-0.039, 2.60,-0.049, 2.67,-0.020, 2.73,0.025, 2.81,0.009, 2.89,0.025, 2.98,-0.010, 3.06,-0.065, 3.14,-0.049, 3.24,-0.088,
    3.33,-0.062, 3.39,-0.041, 3.47,-0.065, 3.53,-0.073, 3.62,-0.043, 3.70,-0.014, 3.81,-0.007, 3.89,-0.027, 3.97,-0.059, 4.06,-0.043,
    4.16,-0.004, 4.25,0.027, 4.33,0.009, 4.43,-0.001, 4.51,-0.030, 4.64,-0.001, 4.74,0.025, 4.80,-0.017, 4.89,-0.052, 4.97,-0.033,
    5.09,0.001, 5.22,-0.017, 5.34,-0.027, 5.47,-0.004, 5.59,0.006, 5.70,-0.001, 5.84,-0.004, 6.01,-0.008, 6.13,-0.004, 6.21,-0.010,
    6.30,-0.017, 6.38,0.009, 6.52,0.032, 6.65,0.012, 6.75,0.009, 6.88,0.045, 7.00,0.025, 7.13,0.012, 7.25,0.041, 7.33,0.039,
    7.43,0.025, 7.52,0.025, 7.63,-0.004, 7.71,0.032, 7.79,0.041, 7.89,0.058, 7.96,0.048, 8.07,0.074, 8.16,0.048, 8.29,0.074,
    8.40,0.067, 8.52,0.074, 8.66,0.058, 8.79,0.087, 8.91,0.051, 9.01,0.067, 9.12,0.129, 9.16,0.116,
]
obs_culebra = [
    1.00,0.015, 1.09,0.020, 1.17,0.018, 1.24,0.024, 1.30,0.031, 1.37,0.003, 1.44,-0.034, 1.51,-0.058, 1.56,-0.073, 1.61,-0.034,
    1.69,-0.015, 1.76,-0.021, 1.82,-0.049, 1.90,-0.069, 1.96,-0.052, 2.05,-0.031, 2.13,-0.021, 2.21,-0.049, 2.30,-0.037, 2.40,-0.058,
    2.50,-0.040, 2.59,-0.061, 2.65,-0.028, 2.73,0.012, 2.81,-0.015, 2.90,-0.015, 3.00,-0.083, 3.10,-0.049, 3.21,-0.107, 3.32,-0.043,
    3.40,-0.064, 3.50,-0.086, 3.58,-0.064, 3.67,-0.040, 3.75,-0.037, 3.85,-0.012, 3.97,-0.064, 4.08,-0.046, 4.18,-0.028, 4.27,0.021,
    4.36,0.009, 4.46,0.012, 4.54,-0.046, 4.65,-0.018, 4.75,0.006, 4.83,-0.040, 4.93,-0.080, 5.01,-0.046, 5.08,-0.009, 5.18,-0.024,
    5.29,-0.015, 5.41,-0.052, 5.54,-0.031, 5.64,-0.009, 5.74,-0.028, 5.87,-0.006, 5.99,-0.034, 6.12,-0.024, 6.24,-0.034, 6.39,-0.006,
    6.51,0.021, 6.62,-0.003, 6.72,0.006, 6.82,-0.009, 6.91,0.021, 7.01,0.003, 7.11,0.000, 7.20,-0.008, 7.31,0.021, 7.41,0.003,
    7.51,-0.009, 7.61,-0.046, 7.72,0.006, 7.84,0.043, 7.95,0.021, 8.05,0.006, 8.14,0.028, 8.22,0.015, 8.32,0.080, 8.42,0.046,
    8.53,0.052, 8.61,0.049, 8.69,0.055, 8.79,0.076, 8.90,0.058, 8.98,0.040, 9.07,0.052, 9.13,0.113, 9.19,0.162, 9.25,0.113,
    9.32,0.043, 9.38,0.055, 9.46,0.037, 9.52,0.046, 9.61,0.110, 9.67,0.003, 9.73,-0.089, 9.82,-0.064, 9.90,-0.086, 9.98,-0.046,
    10.06,-0.021, 10.15,-0.009, 10.23,0.021, 10.30,0.052, 10.40,0.021, 10.50,0.040, 10.60,0.012, 10.69,0.003, 10.77,0.040, 10.90,0.055,
    11.02,0.058, 11.14,0.049, 11.24,0.043, 11.34,0.080, 11.44,0.070, 11.54,0.107, 11.63,0.055, 11.73,0.043, 11.85,0.043, 11.93,0.046,
    12.02,0.083, 12.12,0.034, 12.22,0.012, 12.37,0.049, 12.46,0.028, 12.60,-0.031, 12.73,0.006, 12.81,-0.006, 12.90,0.012, 12.98,0.015,
]
obs_isabel = [
    1.00,0.019, 1.05,0.006, 1.12,0.025, 1.18,0.015, 1.24,0.034, 1.31,0.041, 1.37,0.022, 1.41,-0.010, 1.47,-0.026, 1.53,-0.055,
    1.57,-0.074, 1.64,-0.036, 1.70,-0.020, 1.76,-0.026, 1.82,-0.049, 1.88,-0.077, 1.95,-0.058, 2.01,-0.039, 2.11,-0.026, 2.20,-0.055,
    2.28,-0.045, 2.36,-0.049, 2.49,-0.039, 2.59,-0.058, 2.65,-0.033, 2.72,0.022, 2.79,-0.010, 2.86,-0.017, 2.93,-0.045, 3.01,-0.087,
    3.09,-0.042, 3.15,-0.061, 3.21,-0.106, 3.28,-0.052, 3.34,-0.042, 3.43,-0.071, 3.53,-0.080, 3.61,-0.052, 3.69,-0.033, 3.78,-0.042,
    3.86,0.009, 3.96,-0.055, 4.07,-0.039, 4.15,-0.045, 4.23,0.031, 4.30,0.025, 4.40,0.031, 4.46,-0.017, 4.54,-0.049, 4.65,-0.007,
    4.75,0.009, 4.83,-0.033, 4.92,-0.080, 5.00,-0.042, 5.09,-0.007, 5.17,0.003, 5.25,-0.026, 5.34,-0.010, 5.42,-0.052, 5.52,-0.039,
    5.60,-0.013, 5.70,-0.020, 5.77,-0.004, 5.87,-0.033, 5.98,-0.026, 6.08,-0.023, 6.20,-0.026, 6.31,-0.033, 6.39,-0.004, 6.52,0.028,
    6.62,0.015, 6.70,0.009, 6.81,0.031, 6.89,0.025, 6.97,0.006, 7.06,-0.004, 7.14,-0.007, 7.22,0.022, 7.31,0.038, 7.39,0.022,
    7.47,0.012, 7.56,-0.010, 7.64,-0.023, 7.72,0.006, 7.80,0.038, 7.87,0.070, 7.95,0.054, 8.03,0.028, 8.11,0.066, 8.20,0.057,
    8.28,0.089, 8.34,0.111, 8.43,0.063, 8.51,0.073, 8.59,0.066, 8.68,0.073, 8.78,0.102, 8.86,0.086, 8.94,0.050, 9.05,0.047,
    9.11,0.098, 9.20,0.188, 9.26,0.127, 9.32,0.060, 9.38,0.073, 9.44,0.057, 9.51,0.054, 9.57,0.108, 9.62,0.159, 9.66,0.066,
    9.70,-0.017, 9.74,-0.074, 9.80,-0.052, 9.86,-0.061, 9.92,-0.080, 9.99,-0.042, 10.05,-0.017, 10.13,0.003, 10.19,0.015, 10.27,0.060,
    10.34,0.041, 10.41,0.031, 10.46,0.047, 10.52,0.047, 10.59,0.031, 10.63,0.019,
]
obs_esperanza = [
    1.00,0.072, 1.04,0.027, 1.11,0.011, 1.19,0.020, 1.27,0.024, 1.33,0.029, 1.42,-0.005, 1.48,-0.037, 1.56,-0.066, 1.62,-0.043,
    1.71,-0.018, 1.77,-0.040, 1.86,-0.069, 1.95,-0.051, 2.10,-0.021, 2.19,-0.042, 2.29,-0.045, 2.39,-0.047, 2.49,-0.045, 2.59,-0.057,
    2.70,0.014, 2.80,-0.015, 2.91,-0.037, 3.02,-0.069, 3.10,-0.056, 3.22,-0.085, 3.31,-0.053, 3.41,-0.072, 3.52,-0.085, 3.60,-0.066,
    3.70,-0.037, 3.83,-0.015, 3.93,-0.053, 3.99,-0.063, 4.10,-0.037, 4.15,-0.031, 4.24,0.022, 4.32,0.008, 4.40,-0.024, 4.53,-0.034,
    4.61,-0.011, 4.69,0.017, 4.79,-0.037, 4.92,-0.063, 5.04,-0.011, 5.13,0.001, 5.23,-0.024, 5.38,-0.043, 5.51,-0.018, 5.65,-0.008,
    5.77,-0.015, 5.90,-0.016, 6.04,-0.015, 6.17,-0.008, 6.27,-0.022, 6.37,0.001, 6.52,0.028, 6.67,0.008, 6.77,-0.003, 6.89,0.027,
    7.00,0.004, 7.14,-0.015, 7.27,0.030, 7.35,0.036, 7.48,0.017, 7.56,0.027, 7.64,0.001, 7.72,0.017, 7.85,0.072, 7.97,0.059,
    8.10,0.062, 8.22,0.072, 8.35,0.083, 8.47,0.065, 8.56,0.075, 8.66,0.057, 8.78,0.087, 8.85,0.065, 8.93,0.040, 9.05,0.052,
    9.11,0.078, 9.19,0.162, 9.26,0.116, 9.33,0.062, 9.43,0.065, 9.51,0.056, 9.59,0.091, 9.63,0.081,
]
obs_fajardo = [
    1.00,0.119, 1.04,0.041, 1.09,-0.005, 1.13,0.014, 1.17,0.050, 1.22,0.034, 1.25,0.008, 1.36,0.008, 1.44,0.008, 1.48,0.001,
    1.52,-0.080, 1.56,-0.084, 1.62,-0.031, 1.69,-0.025, 1.77,-0.025, 1.84,-0.058, 1.90,-0.080, 1.96,-0.048, 2.02,-0.035, 2.12,-0.025,
    2.23,-0.061, 2.31,-0.041, 2.41,-0.064, 2.52,-0.041, 2.60,-0.058, 2.70,0.011, 2.77,-0.005, 2.85,-0.012, 2.91,-0.005, 3.00,-0.087,
    3.08,-0.031, 3.14,-0.045, 3.22,-0.110, 3.32,-0.035, 3.41,-0.067, 3.50,-0.080, 3.60,-0.045, 3.72,-0.031, 3.82,0.008, 3.93,-0.051,
    4.01,-0.041, 4.14,-0.041, 4.26,0.033, 4.36,0.024, 4.43,0.026, 4.51,-0.035, 4.59,-0.041, 4.69,0.001, 4.76,0.018, 4.82,-0.009,
    4.90,-0.077, 4.99,-0.025, 5.08,0.005, 5.18,-0.018, 5.28,-0.004, 5.38,-0.048, 5.51,-0.025, 5.63,-0.005, 5.72,-0.015, 5.82,-0.017,
    5.92,-0.035, 6.05,-0.017, 6.16,-0.022, 6.24,-0.029, 6.32,-0.015, 6.42,-0.005, 6.50,0.031, 6.59,0.021, 6.69,0.014, 6.79,0.006,
    6.90,0.034, 7.02,0.001, 7.13,-0.007, 7.23,0.011, 7.32,0.031, 7.40,0.014, 7.50,0.001, 7.61,-0.031, 7.71,0.008, 7.79,0.037,
    7.87,0.060, 7.94,0.050, 8.02,0.024, 8.08,0.047, 8.16,0.067, 8.25,0.054, 8.35,0.113, 8.41,0.077, 8.50,0.067, 8.58,0.070,
    8.66,0.063, 8.76,0.099, 8.85,0.086, 8.91,0.054, 9.01,0.054, 9.08,0.067, 9.14,0.149, 9.20,0.191, 9.26,0.149, 9.33,0.067,
    9.41,0.070, 9.49,0.063, 9.58,0.132, 9.62,0.122,
]
obs_yabucoa = [
    1.00,-0.015, 1.03,0.023, 1.07,0.030, 1.12,0.015, 1.17,0.008, 1.24,0.030, 1.30,0.026, 1.38,0.015, 1.47,-0.008, 1.52,-0.053,
    1.59,-0.060, 1.66,-0.038, 1.73,-0.015, 1.80,-0.038, 1.88,-0.072, 1.96,-0.053, 2.05,-0.038, 2.13,-0.019, 2.21,-0.038, 2.30,-0.042,
    2.40,-0.053, 2.50,-0.049, 2.59,-0.060, 2.67,-0.034, 2.75,0.011, 2.84,-0.019, 2.92,-0.015, 3.00,-0.034, 3.07,-0.064, 3.15,-0.049,
    3.25,-0.083, 3.38,-0.053, 3.46,-0.068, 3.54,-0.087, 3.63,-0.049, 3.73,-0.030, 3.85,-0.019, 3.97,-0.068, 4.08,-0.042, 4.17,-0.019,
    4.25,0.019, 4.33,0.000, 4.41,0.008, 4.50,-0.011, 4.60,-0.023, 4.68,0.000, 4.76,0.034, 4.85,-0.011, 4.91,-0.045, 5.01,-0.023,
    5.12,0.015, 5.20,0.000, 5.29,-0.015, 5.40,-0.034, 5.51,-0.004, 5.64,-0.004, 5.74,-0.008, 5.87,-0.004, 5.99,-0.015, 6.16,-0.006,
    6.28,-0.019, 6.41,0.011, 6.53,0.038, 6.62,0.026, 6.72,0.023, 6.82,0.008, 6.91,0.019, 7.03,0.015, 7.14,-0.008, 7.24,0.019,
    7.34,0.034, 7.42,0.026, 7.51,0.032, 7.61,0.006, 7.71,0.034, 7.82,0.068, 7.92,0.072, 8.03,0.064, 8.11,0.074, 8.22,0.060,
    8.30,0.072, 8.42,0.075, 8.53,0.074, 8.61,0.072, 8.69,0.045, 8.78,0.083, 8.86,0.030, 8.94,0.026, 9.03,0.030, 9.13,0.113,
    9.19,0.117, 9.28,0.038, 9.34,0.026, 9.40,0.060, 9.47,0.042, 9.52,0.011, 9.58,0.128, 9.62,0.234, 9.67,0.158, 9.72,-0.060,
    9.77,-0.151, 9.83,-0.109, 9.88,-0.075, 9.92,-0.113, 9.98,-0.091, 10.05,-0.038, 10.15,-0.030, 10.23,-0.019, 10.31,0.011, 10.40,-0.015,
    10.52,0.036, 10.63,0.023, 10.75,-0.009, 10.85,0.038, 10.96,0.011, 11.08,0.038, 11.21,0.015, 11.31,0.057, 11.41,0.064, 11.52,0.060,
    11.64,0.019, 11.77,0.004, 11.88,0.008, 11.96,-0.002, 12.04,0.032, 12.14,-0.004, 12.23,0.000, 12.35,0.011, 12.48,-0.034, 12.60,-0.068,
    12.69,-0.038, 12.77,-0.049, 12.85,-0.034, 12.94,-0.049, 12.98,-0.015,
]
obs_sanjuan = [
    1.00,0.018, 1.05,0.022, 1.12,0.037, 1.20,0.025, 1.28,0.043, 1.34,0.031, 1.38,-0.018, 1.45,-0.043, 1.52,-0.068, 1.57,-0.080,
    1.63,-0.043, 1.70,-0.031, 1.78,-0.018, 1.85,-0.043, 1.89,-0.089, 1.95,-0.068, 2.03,-0.040, 2.11,-0.025, 2.20,-0.034, 2.24,-0.064,
    2.32,-0.031, 2.40,-0.040, 2.51,-0.034, 2.59,-0.058, 2.65,-0.034, 2.72,0.000, 2.78,0.000, 2.84,0.004, 2.90,-0.025, 2.99,-0.083,
    3.07,-0.028, 3.14,-0.049, 3.21,-0.117, 3.29,-0.025, 3.38,-0.049, 3.44,-0.068, 3.53,-0.074, 3.61,-0.046, 3.68,-0.028, 3.78,-0.034,
    3.84,0.025, 3.90,0.000, 3.98,-0.046, 4.09,-0.034, 4.15,-0.037, 4.26,0.043, 4.32,0.034, 4.38,0.018, 4.46,-0.012, 4.54,-0.037,
    4.61,0.006, 4.69,0.015, 4.77,0.040, 4.86,-0.012, 4.92,-0.080, 5.00,-0.034, 5.08,0.003, 5.15,-0.006, 5.23,-0.025, 5.30,-0.015,
    5.40,-0.058, 5.50,-0.043, 5.60,-0.031, 5.69,-0.040, 5.84,-0.021, 5.92,-0.040, 5.98,-0.049, 6.08,-0.021, 6.18,-0.037, 6.28,-0.037,
    6.37,-0.040, 6.48,0.009, 6.58,-0.006, 6.68,0.000, 6.78,-0.018, 6.89,0.009, 7.00,-0.018, 7.14,-0.021, 7.28,0.026, 7.36,0.009,
    7.45,-0.003, 7.54,-0.003, 7.60,-0.043, 7.66,-0.043, 7.76,-0.012, 7.89,0.052, 8.00,0.046, 8.08,0.015, 8.16,0.052, 8.25,0.037,
    8.34,0.098, 8.43,0.043, 8.53,0.052, 8.64,0.049, 8.74,0.087, 8.84,0.068, 8.94,0.040, 9.05,0.037, 9.13,0.092, 9.20,0.175,
    9.28,0.111, 9.34,0.034, 9.40,0.061, 9.47,0.055, 9.53,0.064, 9.61,0.101, 9.67,0.000, 9.74,-0.077, 9.80,-0.061, 9.86,-0.077,
    9.92,-0.092, 9.99,-0.040, 10.05,-0.031, 10.11,-0.034, 10.19,0.000, 10.27,0.031, 10.36,0.000, 10.44,0.012, 10.52,0.031, 10.63,-0.025,
    10.71,0.012, 10.82,0.046, 10.92,0.049, 11.03,0.046, 11.17,0.040, 11.29,0.058, 11.42,0.089, 11.49,0.092, 11.57,0.120, 11.67,0.061,
    11.77,0.055, 11.85,0.028, 11.96,0.064, 12.04,0.071, 12.13,0.037, 12.21,-0.012, 12.27,0.034, 12.33,0.046, 12.41,0.043, 12.52,-0.040,
    12.58,-0.052, 12.66,-0.018, 12.76,-0.003, 12.84,-0.009, 12.91,0.022, 12.98,0.018,
]
obs_arecibo = [
    1.00,0.018, 1.06,0.020, 1.12,0.042, 1.19,0.017, 1.27,0.029, 1.32,0.020, 1.37,-0.057, 1.46,-0.060, 1.54,-0.076, 1.62,-0.050,
    1.71,-0.031, 1.77,-0.037, 1.86,-0.107, 1.94,-0.050, 2.02,-0.044, 2.10,-0.028, 2.19,-0.063, 2.29,-0.028, 2.39,-0.085, 2.47,-0.050,
    2.58,-0.079, 2.64,-0.031, 2.74,-0.018, 2.83,-0.007, 2.89,-0.031, 2.97,-0.079, 3.08,-0.028, 3.18,-0.114, 3.28,-0.015, 3.38,-0.050,
    3.52,-0.085, 3.62,-0.047, 3.71,-0.053, 3.80,0.006, 3.86,-0.037, 3.96,-0.079, 4.07,-0.063, 4.15,-0.053, 4.25,0.032, 4.32,0.023,
    4.40,0.001, 4.49,-0.050, 4.57,-0.006, 4.65,-0.004, 4.76,0.040, 4.84,-0.012, 4.90,-0.082, 4.97,-0.031, 5.07,0.004, 5.18,-0.018,
    5.28,-0.006, 5.36,-0.063, 5.44,-0.037, 5.57,-0.028, 5.65,-0.020, 5.77,-0.030, 5.87,-0.022, 5.98,-0.044, 6.09,-0.022, 6.19,-0.031,
    6.27,-0.028, 6.34,-0.050, 6.48,0.013, 6.56,0.001, 6.69,-0.003, 6.79,-0.022, 6.89,0.001, 6.99,-0.018, 7.09,-0.013, 7.17,-0.022,
    7.28,0.017, 7.39,0.007, 7.50,0.001, 7.60,-0.037, 7.68,-0.018, 7.77,0.026, 7.89,0.059, 7.98,0.010, 8.12,0.077, 8.22,0.055,
    8.33,0.107, 8.43,0.058, 8.56,0.065, 8.68,0.067, 8.80,0.064, 8.93,0.039, 9.03,0.036, 9.11,0.086, 9.20,0.171, 9.26,0.131,
    9.33,0.026, 9.39,0.029, 9.47,0.078, 9.53,0.036, 9.63,0.148, 9.69,0.048, 9.76,-0.044, 9.84,-0.031, 10.09,-0.031, 10.51,-0.031,
    10.56,0.036, 10.63,-0.031, 10.69,-0.031, 10.76,0.026, 10.88,0.036, 11.00,0.045, 11.17,0.045, 11.29,0.061, 11.40,0.088, 11.46,0.090,
    11.54,0.129, 11.63,0.064, 11.68,0.045, 11.79,0.023, 11.92,0.058, 12.04,0.059, 12.15,-0.012, 12.21,0.007, 12.29,0.048, 12.43,0.020,
    12.56,-0.057, 12.66,-0.003, 12.75,0.001, 12.83,0.013, 12.91,0.026, 12.98,0.023,
]
obs_magueyes = [
    1.00,0.327, 1.02,0.199, 1.06,0.076, 1.09,-0.038, 1.13,0.019, 1.19,0.062, 1.24,-0.014, 1.30,0.005, 1.36,0.014, 1.42,-0.024,
    1.52,-0.038, 1.61,-0.076, 1.69,-0.033, 1.76,-0.047, 1.83,-0.095, 1.90,-0.076, 1.96,-0.043, 2.06,-0.033, 2.15,-0.027, 2.23,-0.047,
    2.31,-0.052, 2.44,-0.057, 2.52,-0.052, 2.60,-0.081, 2.69,-0.057, 2.77,-0.014, 2.85,-0.028, 2.93,-0.019, 3.02,-0.043, 3.12,-0.047,
    3.23,-0.043, 3.35,-0.062, 3.47,-0.071, 3.58,-0.081, 3.66,-0.066, 3.76,-0.033, 3.89,-0.047, 3.97,-0.071, 4.10,-0.033, 4.20,0.005,
    4.26,0.000, 4.36,-0.019, 4.47,-0.014, 4.55,0.000, 4.64,-0.008, 4.72,0.028, 4.79,-0.005, 4.86,-0.057, 4.97,-0.038, 5.09,-0.005,
    5.18,-0.009, 5.32,-0.057, 5.43,-0.033, 5.55,-0.005, 5.67,-0.009, 5.84,-0.024, 5.96,-0.024, 6.09,-0.024, 6.19,-0.028, 6.28,-0.047,
    6.38,0.000, 6.50,0.024, 6.63,0.019, 6.75,0.009, 6.86,0.043, 6.96,0.024, 7.04,0.028, 7.15,0.005, 7.25,0.014, 7.38,0.009,
    7.48,0.019, 7.63,0.005, 7.75,0.024, 7.87,0.062, 7.96,0.071, 8.04,0.114, 8.12,0.066, 8.21,0.104, 8.29,0.100, 8.37,0.095,
    8.50,0.085, 8.62,0.081, 8.70,0.057, 8.79,0.085, 8.91,0.038, 9.00,0.030, 9.08,0.066, 9.14,0.109, 9.23,0.071, 9.31,0.014,
    9.37,0.009, 9.45,0.095, 9.53,0.014, 9.58,0.142, 9.62,0.341, 9.74,0.341, 9.87,0.338, 10.03,0.336, 10.27,0.336, 10.28,0.327,
]
obs_mayaguez = [
    1.00,0.101, 1.03,0.070, 1.07,0.038, 1.12,0.028, 1.17,0.032, 1.24,0.035, 1.30,0.016, 1.36,-0.025, 1.42,-0.038, 1.51,-0.035,
    1.57,-0.076, 1.66,-0.041, 1.74,-0.035, 1.80,-0.082, 1.86,-0.111, 1.92,-0.066, 1.99,-0.038, 2.07,-0.025, 2.15,-0.041, 2.24,-0.032,
    2.32,-0.077, 2.40,-0.082, 2.49,-0.060, 2.59,-0.079, 2.67,-0.063, 2.78,-0.016, 2.86,-0.035, 2.96,-0.044, 3.04,-0.032, 3.13,-0.060,
    3.19,-0.079, 3.29,-0.025, 3.38,-0.057, 3.50,-0.073, 3.58,-0.060, 3.67,-0.063, 3.75,-0.038, 3.82,-0.025, 3.92,-0.047, 3.98,-0.070,
    4.08,-0.047, 4.17,-0.016, 4.25,0.025, 4.33,-0.009, 4.41,-0.038, 4.50,-0.028, 4.58,-0.006, 4.68,0.006, 4.75,0.038, 4.83,-0.013,
    4.90,-0.060, 5.00,-0.009, 5.08,0.006, 5.18,-0.006, 5.25,-0.019, 5.35,-0.060, 5.45,-0.025, 5.56,0.000, 5.68,0.003, 5.79,0.000,
    5.89,-0.003, 5.98,-0.022, 6.06,-0.006, 6.16,-0.016, 6.24,-0.013, 6.33,-0.035, 6.45,0.013, 6.57,0.025, 6.70,0.020, 6.80,0.003,
    6.91,0.022, 7.03,0.019, 7.11,0.013, 7.24,0.020, 7.36,0.025, 7.47,0.019, 7.61,0.000, 7.74,0.035, 7.86,0.057, 7.95,0.060,
    8.01,0.047, 8.09,0.107, 8.17,0.070, 8.25,0.082, 8.32,0.114, 8.39,0.082, 8.47,0.085, 8.57,0.088, 8.69,0.079, 8.82,0.076,
    8.90,0.051, 8.98,0.038, 9.08,0.070, 9.15,0.130, 9.22,0.142, 9.28,0.085, 9.34,0.032, 9.42,0.063, 9.50,0.057, 9.57,0.082,
    9.61,0.107, 9.65,0.104,
]
obs_mona = [
    1.00,0.015, 1.03,0.046, 1.07,0.073, 1.12,0.062, 1.17,0.046, 1.22,0.058, 1.28,0.089, 1.32,0.132, 1.37,0.178, 1.41,0.155,
    1.45,0.069, 1.49,-0.040, 1.55,-0.079, 1.60,-0.094, 1.66,-0.055, 1.72,-0.009, 1.78,-0.032, 1.85,-0.055, 1.92,-0.044, 2.01,-0.040,
    2.10,-0.071, 2.20,-0.087, 2.30,-0.083, 2.40,-0.075, 2.46,-0.063, 2.53,-0.087, 2.61,-0.102, 2.69,-0.079, 2.79,-0.024, 2.88,-0.059,
    2.94,-0.087, 3.03,-0.122, 3.11,-0.059, 3.18,-0.040, 3.22,-0.079, 3.28,-0.102, 3.34,-0.028, 3.41,-0.055, 3.48,-0.087, 3.59,-0.055,
    3.65,-0.055, 3.71,-0.009, 3.76,0.050, 3.82,0.003, 3.92,-0.040, 4.02,-0.012, 4.11,-0.009, 4.19,0.003, 4.27,0.003, 4.37,-0.009,
    4.44,-0.020, 4.52,0.007, 4.61,-0.040, 4.67,-0.016, 4.76,-0.032, 4.81,-0.087, 4.88,-0.145, 4.94,-0.102, 5.02,-0.067, 5.10,-0.063,
    5.20,-0.079, 5.31,-0.094, 5.40,-0.106, 5.48,-0.087, 5.59,-0.079, 5.70,-0.079, 5.81,-0.079, 5.89,-0.063, 5.98,-0.079, 6.08,-0.059,
    6.18,-0.048, 6.28,-0.036, 6.39,-0.005, 6.48,0.023, 6.58,0.027, 6.68,0.015, 6.77,0.019, 6.83,0.042, 6.93,0.050, 7.03,0.058,
    7.14,0.038, 7.22,0.046, 7.33,0.042, 7.41,0.027, 7.50,0.007, 7.60,-0.005, 7.68,-0.020, 7.76,-0.005, 7.86,0.038, 7.95,0.023,
    8.03,0.042, 8.11,0.046, 8.20,0.030, 8.30,0.065, 8.39,0.038, 8.47,0.027, 8.58,0.030, 8.68,0.027, 8.78,0.030, 8.88,0.003,
    8.97,0.034, 9.05,0.069, 9.13,0.120, 9.22,0.198, 9.28,0.186, 9.33,0.077, 9.38,0.030, 9.44,0.093, 9.49,0.054, 9.53,0.101,
    9.59,0.069, 9.63,0.241, 9.67,0.155, 9.72,0.038, 9.77,-0.036, 9.84,0.015, 9.91,-0.009, 9.99,-0.001, 10.07,-0.009, 10.17,0.019,
    10.26,0.015, 10.34,0.030, 10.42,0.011, 10.51,0.034, 10.60,0.007, 10.67,0.030, 10.75,0.046, 10.84,0.038, 10.92,-0.020, 11.02,-0.009,
    11.13,-0.012, 11.21,0.034, 11.32,0.081, 11.42,0.093, 11.50,0.101, 11.58,0.042, 11.67,-0.028, 11.75,-0.001, 11.83,0.054, 11.92,0.069,
    12.00,0.077, 12.08,0.058, 12.15,0.081, 12.25,0.093, 12.34,0.073, 12.42,0.069, 12.48,-0.001, 12.54,-0.055, 12.63,-0.032, 12.68,-0.044,
    12.75,-0.051, 12.83,-0.040, 12.91,-0.036, 12.98,0.011,
]

obs_all = [obs_stgeorges, obs_biological, obs_christiansted, obs_limetree,
           obs_lameshur, obs_charlotte, obs_culebra, obs_isabel,
           obs_esperanza, obs_fajardo, obs_yabucoa, obs_sanjuan,
           obs_arecibo, obs_magueyes, obs_mayaguez, obs_mona]
run_all = [run_bermuda, run_bermuda, run_christiansted, run_limetree,
           run_lameshur, run_charlotte, run_culebra, run_isabel,
           run_esperanza, run_fajardo, run_yabucoa, run_sanjuan,
           run_arecibo, run_magueyes, run_mayaguez, run_mona]

W, H = 5150, 1950
fig = plt.figure(figsize=(W / 100, H / 100), dpi=100)
col_left = [87.5, 1371, 2654, 3938]
row_top = [37, 431, 822, 1215]
ax_w, ax_h = 1203, 332

for i, name in enumerate(stations):
    r, c = divmod(i, 4)
    ax = fig.add_axes([col_left[c] / W, 1 - (row_top[r] + ax_h) / H, ax_w / W, ax_h / H])
    o = np.reshape(obs_all[i], (-1, 2))
    ax.plot(o[:, 0], o[:, 1], 'r-.', lw=2, label='Obs')
    run = run_all[i]
    if run is run_bermuda:
        m = np.reshape(run, (-1, 2))
        tm, vm = m[:, 0], m[:, 1]
    else:
        tm, vm = np.array(t_pr), np.array(run)
    ax.plot(tm, vm, color='b', lw=0.7, label='RUN100f')
    ax.set_xlim(1, 12.98)
    ax.set_xticks(range(1, 13))
    ax.set_title('station:' + name + ' (datum:xGEOID)', fontsize=12)
    if c % 2 == 0:
        ax.set_ylabel('Elevation (m)')
    if i == 0:
        ax.legend(loc='upper right')

fig.savefig('out.png', dpi=100)
